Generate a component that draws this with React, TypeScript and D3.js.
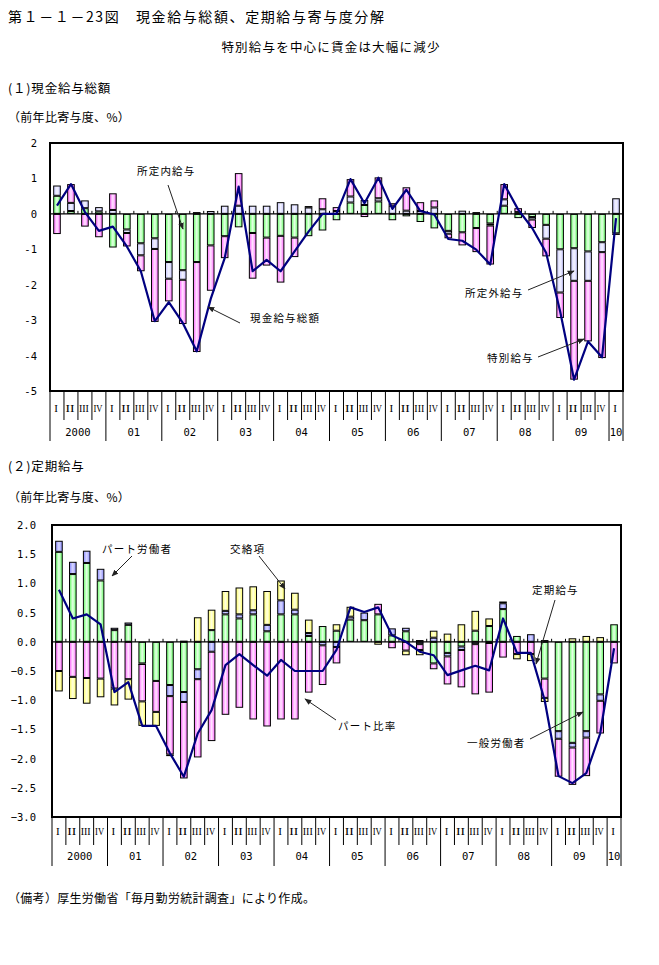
import React from "react";
import * as d3 from "d3";

// ---------- categories / tick labels ----------
const quarterLabels = ["I", "II", "III", "IV"];
const yearLabels = ["2000", "01", "02", "03", "04", "05", "06", "07", "08", "09", "10"];
const categories: string[] = yearLabels.flatMap((yr, i) =>
  (i < yearLabels.length - 1 ? quarterLabels : ["I"]).map((q) => `${yr}-${q}`)
);

// ---------- panel 1: 現金給与総額 ----------
const p1Keys = ["所定内給与", "所定外給与", "特別給与"];
const p1Scheduled = [0.51, 0.08, 0.16, 0.07, -0.95, -0.44, -0.83, -0.69, -1.36, -1.59, -1.36, -0.89, -0.63, -0.38, -0.54, -0.67, -0.62, -0.67, -0.63, -0.47, -0.18, 0.32, 0.25, 0.35, -0.18, -0.07, -0.23, -0.41, -0.48, -0.52, -0.40, -0.27, 0.23, -0.12, -0.09, -0.31, -1.0, -0.97, -1.06, -0.80, -0.55];
const p1Overtime = [0.29, 0.23, 0.22, 0.12, 0.11, -0.10, -0.34, -0.30, -0.47, -0.27, 0.05, 0.08, 0.23, 0.23, 0.23, 0.23, 0.33, 0.27, 0.18, 0.13, 0.08, 0.17, 0.14, 0.09, 0.23, 0.09, 0.08, 0.18, -0.08, 0.09, 0.05, -0.06, 0.18, 0.05, -0.07, -0.39, -1.22, -0.92, -0.83, -0.28, 0.44];
const p1Special = [-0.57, 0.53, -0.36, -0.66, 0.47, -0.38, -0.45, -2.06, -0.64, -1.25, -2.54, -1.28, -0.62, 0.92, -1.29, -0.79, -1.32, -0.55, 0.04, 0.31, 0.11, 0.49, -0.09, 0.59, 0.07, 0.66, 0.25, 0.20, -0.13, -0.37, -0.68, -1.10, 0.43, 0.11, -0.24, -0.50, -0.72, -2.79, -1.71, -2.99, -0.02];
const p1Total = [0.23, 0.84, 0.05, -0.48, -0.36, -0.92, -1.62, -3.03, -2.49, -3.08, -3.88, -2.40, -1.25, 0.77, -1.62, -1.30, -1.62, -1.06, -0.50, 0.0, 0.0, 0.98, 0.30, 1.02, 0.14, 0.68, 0.08, -0.02, -0.71, -0.76, -1.01, -1.43, 0.84, 0.12, -0.40, -1.10, -2.75, -4.68, -3.60, -4.05, -0.12];
const p1Ticks = [2, 1, 0, -1, -2, -3, -4, -5];

// ---------- panel 2: 定期給与 ----------
const p2Keys = ["一般労働者", "パート労働者", "パート比率", "交絡項"];
const p2General = [1.54, 1.16, 1.35, 1.05, 0.20, 0.29, -0.37, -0.67, -0.74, -0.86, -0.47, 0.20, 0.47, 0.40, 0.47, 0.18, 0.47, 0.47, 0.10, 0.27, 0.19, 0.38, 0.37, 0.47, 0.11, 0.18, 0.03, -0.37, -0.19, -0.08, 0.19, 0.27, 0.56, 0.10, 0.0, -0.63, -1.53, -1.73, -1.53, -0.90, 0.30];
const p2PartTime = [0.19, 0.21, 0.21, 0.20, 0.04, 0.04, -0.01, 0.0, -0.19, -0.17, -0.17, -0.17, 0.06, 0.07, 0.07, 0.11, 0.24, 0.08, 0.05, -0.06, -0.09, 0.05, 0.13, 0.0, 0.12, 0.06, -0.04, 0.07, -0.06, -0.06, -0.04, -0.02, 0.10, 0.0, 0.13, 0.03, -0.13, -0.08, -0.11, -0.11, 0.0];
const p2PartRatio = [-0.50, -0.60, -0.62, -0.63, -0.80, -0.64, -0.64, -0.53, -1.00, -1.31, -1.34, -1.53, -1.25, -1.13, -1.33, -1.45, -1.33, -1.33, -0.87, -0.68, -0.28, 0.0, 0.0, 0.18, -0.11, -0.15, -0.10, -0.10, -0.48, -0.64, -0.86, -0.85, -0.27, -0.21, -0.21, -0.33, -0.65, -0.64, -0.66, -0.56, -0.37];
const p2Cross = [-0.35, -0.38, -0.44, -0.32, -0.29, -0.35, -0.42, -0.24, -0.01, 0.02, 0.42, 0.35, 0.34, 0.46, 0.41, 0.58, 0.34, 0.29, 0.23, 0.0, 0.11, 0.17, 0.0, -0.05, 0.0, -0.08, -0.09, 0.12, 0.14, 0.30, 0.34, 0.13, 0.03, -0.09, -0.12, -0.07, 0.0, 0.06, 0.10, 0.08, 0.0];
const p2Total = [0.89, 0.40, 0.47, 0.30, -0.86, -0.69, -1.44, -1.44, -1.91, -2.31, -1.57, -1.17, -0.40, -0.21, -0.40, -0.58, -0.31, -0.50, -0.50, -0.50, -0.14, 0.59, 0.51, 0.59, 0.11, 0.0, -0.17, -0.23, -0.57, -0.49, -0.41, -0.49, 0.40, -0.19, -0.19, -1.00, -2.30, -2.42, -2.25, -1.57, -0.11];
const p2Ticks = [2, 1.5, 1, 0.5, 0, -0.5, -1, -1.5, -2, -2.5, -3];

const JP = "'Noto Sans CJK JP', 'Noto Sans', sans-serif";
const MONO = "'DejaVu Sans Mono', 'Liberation Mono', monospace";
const SERIF = "'Liberation Serif', 'DejaVu Serif', serif";

type Grad = { id: string; edge: string; mid: string };
type Note = { text: string; tx: number; ty: number; x1: number; y1: number; x2: number; y2: number };

type PanelProps = {
  pid: string;
  x0: number; x1: number; yTop: number; yBot: number;
  domain: [number, number];
  ticks: number[];
  fmt: (v: number) => string;
  labelRight: number;
  keys: string[];
  series: number[][];
  grads: Grad[];
  total: number[];
  romanBottom: number; romanY: number; yearY: number; sepBottom: number;
  notes: Note[];
};

function Panel(p: PanelProps) {
  const x = d3.scaleBand<string>().domain(categories).range([p.x0, p.x1]).padding(0);
  const y = d3.scaleLinear().domain(p.domain).range([p.yTop, p.yBot]);
  const rows = categories.map((c, i) => {
    const o: any = { cat: c };
    p.keys.forEach((k, j) => (o[k] = p.series[j][i]));
    return o;
  });
  const stacked = d3.stack<any>().keys(p.keys).offset(d3.stackOffsetDiverging)(rows);
  const bw = 6.6;
  const cx = (c: string) => (x(c) as number) + x.bandwidth() / 2;
  const y0 = y(0);
  const lineGen = d3.line<number>().x((_, i) => cx(categories[i])).y((v) => y(v));

  const segs: JSX.Element[] = [];
  stacked.forEach((layer, j) => {
    layer.forEach((d, i) => {
      const a = d[0], b = d[1];
      if (Math.abs(b - a) < 1e-9) return;
      const top = y(Math.max(a, b));
      const bot = y(Math.min(a, b));
      const xl = cx(categories[i]) - bw / 2;
      const h = bot - top;
      if (h < 2.2) {
        segs.push(<rect key={`${j}-${i}`} x={xl - 0.5} y={top} width={bw + 1} height={Math.max(1.6, h)} fill="#000" />);
      } else {
        segs.push(
          <rect key={`${j}-${i}`} x={xl} y={top + 0.5} width={bw} height={h - 1}
            fill={`url(#${p.grads[j].id})`} stroke="#000" strokeWidth={1} />
        );
      }
    });
  });

  const bounds = categories.map((c) => x(c) as number).concat([p.x1]);

  return (
    <g>
      <defs>
        {p.grads.map((g) => (
          <linearGradient key={g.id} id={g.id} x1="0" x2="1" y1="0" y2="0">
            <stop offset="0" stopColor={g.edge} />
            <stop offset="0.5" stopColor={g.mid} />
            <stop offset="1" stopColor={g.edge} />
          </linearGradient>
        ))}
        <marker id={`arr-${p.pid}`} viewBox="0 0 10 10" refX="9" refY="5" markerWidth="7" markerHeight="7" orient="auto">
          <path d="M0,1 L10,5 L0,9 Z" fill="#222" />
        </marker>
      </defs>
      {segs}
      {/* zero line + ticks */}
      <line x1={p.x0} x2={p.x1} y1={y0} y2={y0} stroke="#000" strokeWidth={1.2} />
      {bounds.map((bx, i) => (
        <line key={`zt${i}`} x1={bx} x2={bx} y1={y0} y2={y0 - 3} stroke="#000" strokeWidth={1} />
      ))}
      <path d={lineGen(p.total) || ""} fill="none" stroke="#000080" strokeWidth={2.2} strokeLinejoin="round" />
      {/* frame */}
      <rect x={p.x0} y={p.yTop} width={p.x1 - p.x0} height={p.yBot - p.yTop} fill="none" stroke="#000" strokeWidth={2} />
      {/* y labels */}
      {p.ticks.map((t) => (
        <text key={`yt${t}`} x={p.labelRight} y={y(t) + 4} textAnchor="end" fontFamily={MONO} fontSize={10.5} fill="#000">
          {p.fmt(t)}
        </text>
      ))}
      {/* category axis separators */}
      {bounds.map((bx, i) => {
        const isYear = i % 4 === 0 || i === bounds.length - 1;
        return (
          <line key={`sep${i}`} x1={bx} x2={bx} y1={p.yBot} y2={isYear ? p.sepBottom : p.romanBottom}
            stroke="#000" strokeWidth={1} />
        );
      })}
      {categories.map((c) => {
        const q = c.split("-")[1];
        return (
          <text key={`q${c}`} x={cx(c) - 1} y={p.romanY} textAnchor="middle" fontFamily={SERIF} fontSize={11}
            textLength={q.length > 2 ? 10 : q.length === 2 ? 9 : undefined}
            lengthAdjust="spacingAndGlyphs" fill="#000">
            {q}
          </text>
        );
      })}
      {yearLabels.map((yr, i) => {
        const first = categories[i * 4];
        const last = categories[Math.min(i * 4 + 3, categories.length - 1)];
        const mx = ((x(first) as number) + (x(last) as number) + x.bandwidth()) / 2;
        return (
          <text key={`yr${yr}`} x={mx} y={p.yearY} textAnchor="middle" fontFamily={MONO} fontSize={10.5} fill="#000">
            {yr}
          </text>
        );
      })}
      {/* annotations */}
      {p.notes.map((n, i) => (
        <g key={`n${i}`}>
          <line x1={n.x1} y1={n.y1} x2={n.x2} y2={n.y2} stroke="#222" strokeWidth={1} markerEnd={`url(#arr-${p.pid})`} />
          <text x={n.tx} y={n.ty} fontFamily={JP} fontSize={10.5} letterSpacing={1.2} fill="#000">{n.text}</text>
        </g>
      ))}
    </g>
  );
}

export default function App() {
  const g1: Grad[] = [
    { id: "g1a", edge: "#66ff66", mid: "#e6ffe6" },
    { id: "g1b", edge: "#c8c8ff", mid: "#f4f4ff" },
    { id: "g1c", edge: "#ff66ff", mid: "#ffe6ff" },
  ];
  const g2: Grad[] = [
    { id: "g2a", edge: "#66ff66", mid: "#e6ffe6" },
    { id: "g2b", edge: "#8c8cff", mid: "#d8d8ff" },
    { id: "g2c", edge: "#ff66ff", mid: "#ffe6ff" },
    { id: "g2d", edge: "#ffff66", mid: "#ffffe0" },
  ];
  return (
    <svg width={659} height={965} style={{ position: "absolute", left: 0, top: 0, background: "#fff" }}>
      <rect x={0} y={0} width={659} height={965} fill="#fff" />
      <text x={8} y={22} fontFamily={JP} fontSize={14} letterSpacing={1.6} fill="#000">第１－１－23図　現金給与総額、定期給与寄与度分解</text>
      <text x={331} y={52} textAnchor="middle" fontFamily={JP} fontSize={12.5} letterSpacing={1.2} fill="#000">特別給与を中心に賃金は大幅に減少</text>
      <text x={8} y={93} fontFamily={JP} fontSize={12.5} letterSpacing={0.8} fill="#000">(１)現金給与総額</text>
      <text x={8} y={122} fontFamily={JP} fontSize={12} letterSpacing={0.3} fill="#000">（前年比寄与度、%）</text>
      <text x={8} y={471} fontFamily={JP} fontSize={12.5} letterSpacing={0.8} fill="#000">(２)定期給与</text>
      <text x={8} y={502} fontFamily={JP} fontSize={12} letterSpacing={0.3} fill="#000">（前年比寄与度、%）</text>
      <text x={8} y={903} fontFamily={JP} fontSize={12} letterSpacing={0.3} fill="#000">（備考）厚生労働省「毎月勤労統計調査」により作成。</text>

      <Panel
        pid="p1" x0={50} x1={623} yTop={143} yBot={391} domain={[2, -5]} ticks={p1Ticks}
        fmt={(v) => String(v)} labelRight={37}
        keys={p1Keys} series={[p1Scheduled, p1Overtime, p1Special]} grads={g1} total={p1Total}
        romanBottom={420} romanY={412} yearY={436} sepBottom={441}
        notes={[
          { text: "所定内給与", tx: 137, ty: 175, x1: 168, y1: 185, x2: 183, y2: 229 },
          { text: "現金給与総額", tx: 250, ty: 322, x1: 240, y1: 323, x2: 208, y2: 307 },
          { text: "所定外給与", tx: 465, ty: 297, x1: 528, y1: 290, x2: 574, y2: 271 },
          { text: "特別給与", tx: 487, ty: 362, x1: 538, y1: 357, x2: 584, y2: 339 },
        ]}
      />
      <Panel
        pid="p2" x0={52} x1={621} yTop={525} yBot={817} domain={[2, -3]} ticks={p2Ticks}
        fmt={(v) => d3.format(".1f")(v)} labelRight={36}
        keys={p2Keys} series={[p2General, p2PartTime, p2PartRatio, p2Cross]} grads={g2} total={p2Total}
        romanBottom={845} romanY={835} yearY={860} sepBottom={866}
        notes={[
          { text: "パート労働者", tx: 102, ty: 553, x1: 132, y1: 556, x2: 112, y2: 576 },
          { text: "交絡項", tx: 230, ty: 553, x1: 259, y1: 556, x2: 285, y2: 589 },
          { text: "パート比率", tx: 338, ty: 730, x1: 336, y1: 720, x2: 305, y2: 699 },
          { text: "定期給与", tx: 532, ty: 594, x1: 555, y1: 600, x2: 536, y2: 664 },
          { text: "一般労働者", tx: 467, ty: 747, x1: 530, y1: 739, x2: 583, y2: 712 },
        ]}
      />
    </svg>
  );
}
